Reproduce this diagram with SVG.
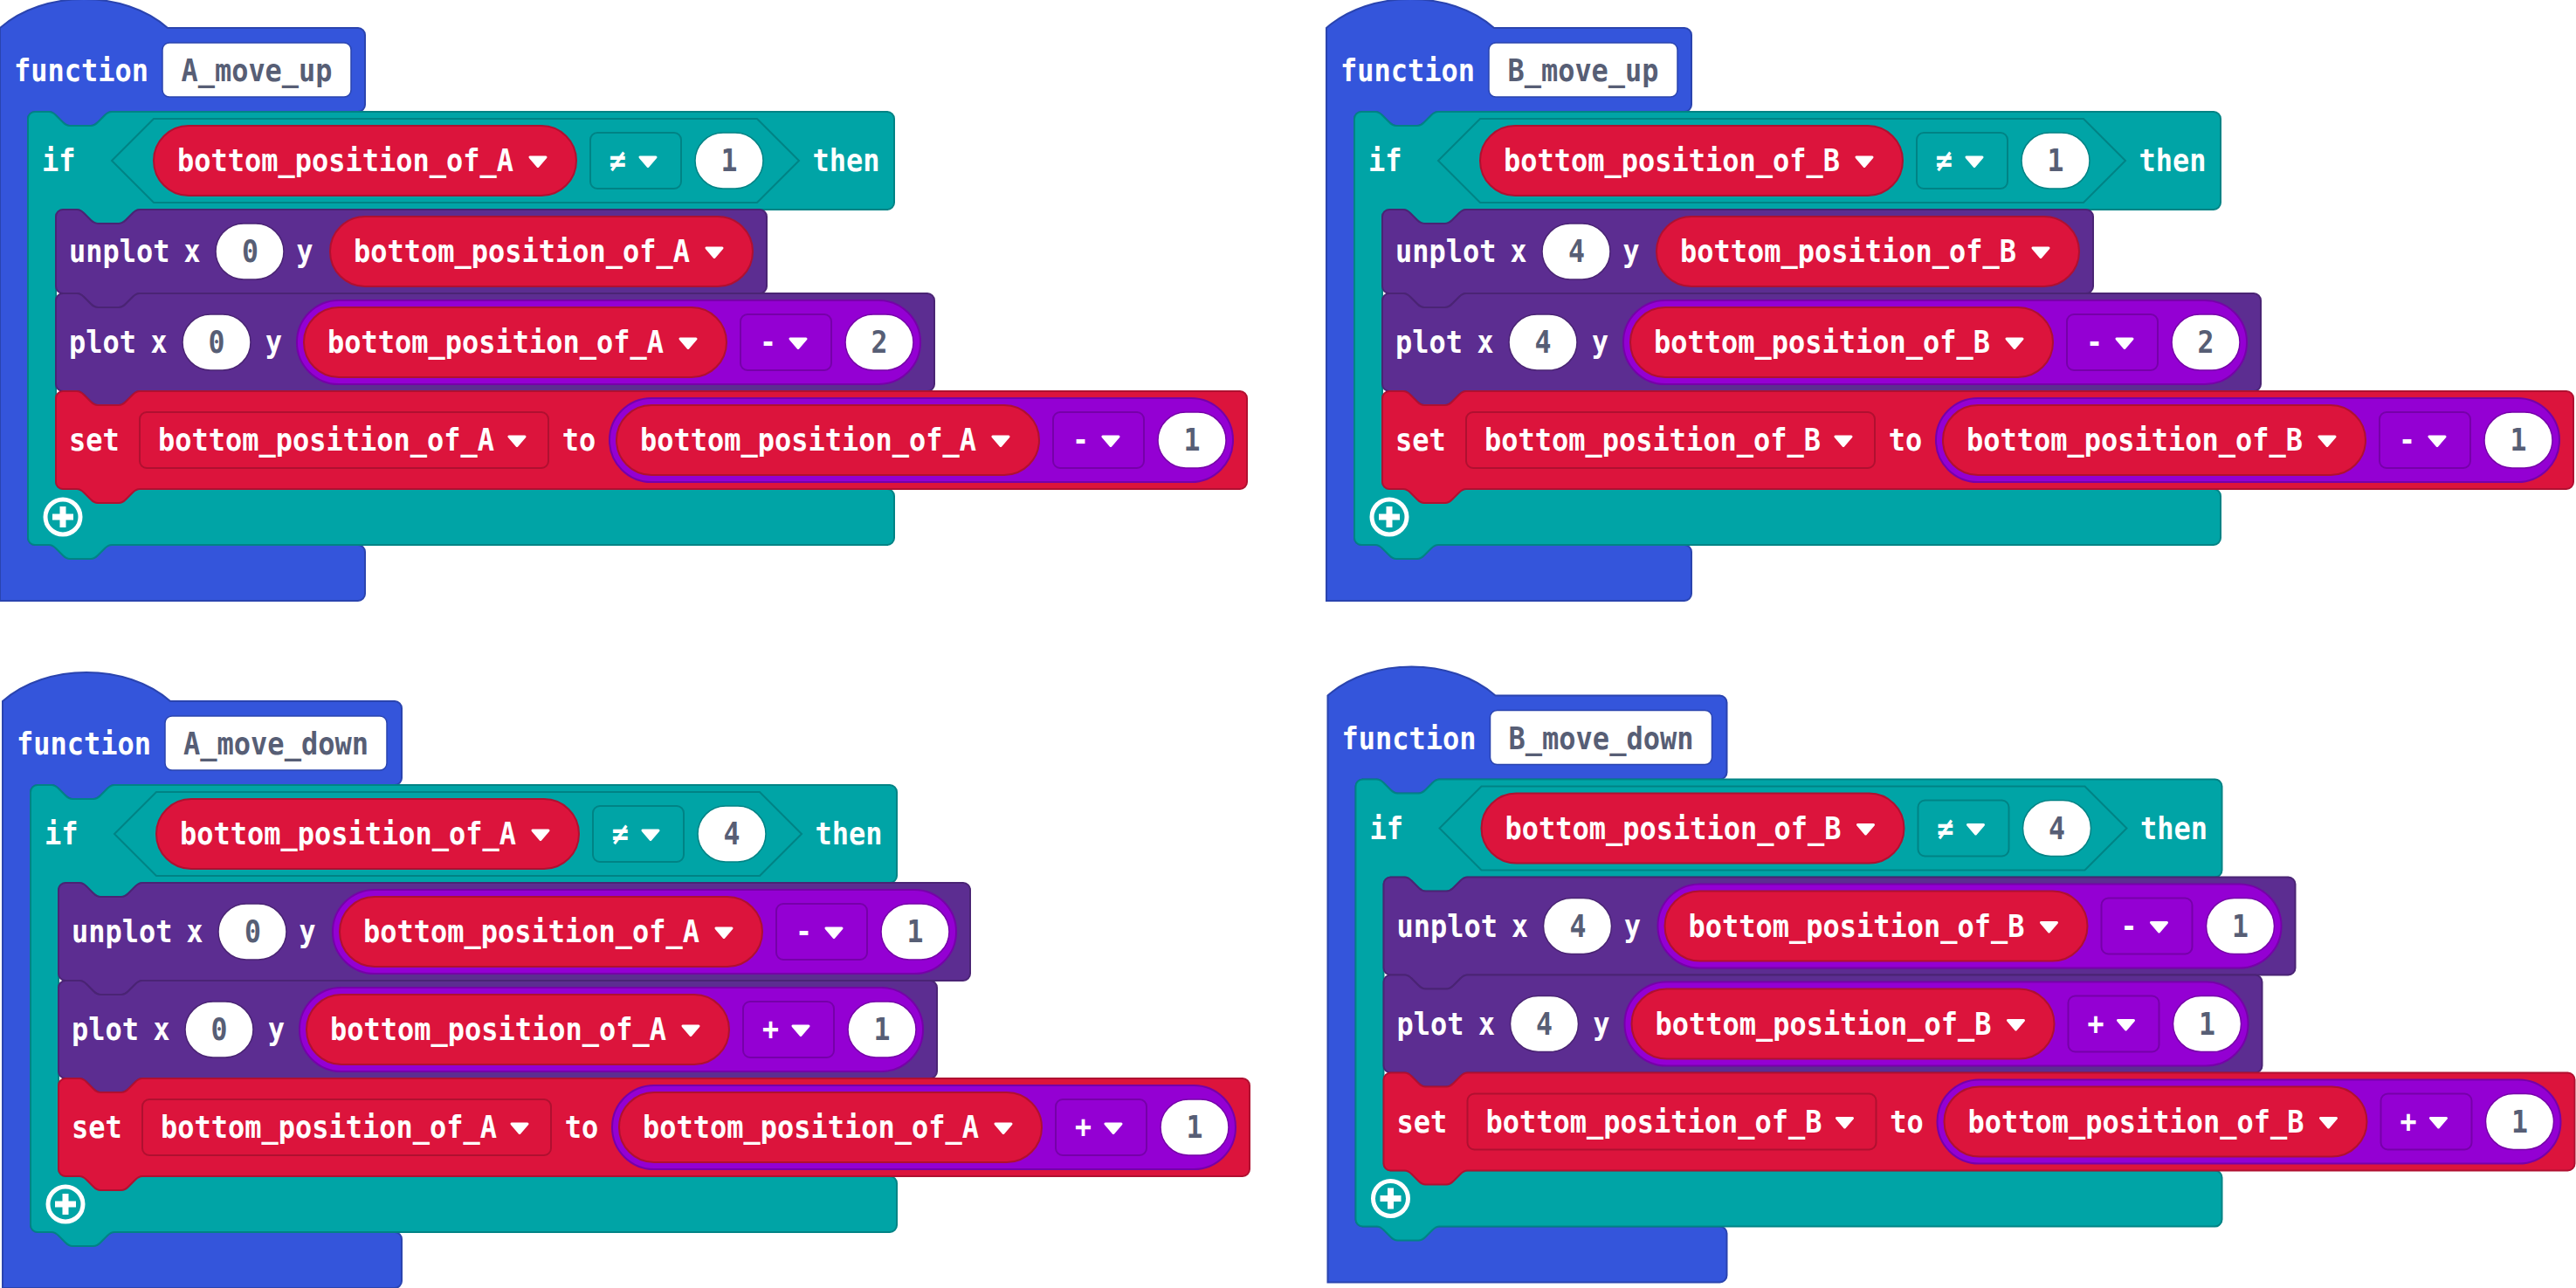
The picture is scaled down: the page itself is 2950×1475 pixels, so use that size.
<svg xmlns="http://www.w3.org/2000/svg" width="2950" height="1475" viewBox="0 0 2950 1475">
<style>
.t{font-family:"DejaVu Sans Mono","Liberation Mono",monospace;font-size:36px;font-weight:bold;fill:#fff}
.g{fill:#575e75}
.m{text-anchor:middle}
.blue{fill:#3455db;stroke:#2a44af;stroke-width:2}
.teal{fill:#00a4a6;stroke:#008385;stroke-width:2}
.led{fill:#5c2d91;stroke:#4a2474;stroke-width:2}
.var{fill:#dc143c;stroke:#b01030;stroke-width:2}
.math{fill:#9400d3;stroke:#7600a9;stroke-width:2}
.name{fill:#fff;stroke:#2a44af;stroke-width:1.5}
.nt{fill:#fff;stroke:#008385;stroke-width:1.5}
.nl{fill:#fff;stroke:#4a2474;stroke-width:1.5}
.nm{fill:#fff;stroke:#7600a9;stroke-width:1.5}
.plus{fill:none;stroke:#fff;stroke-width:5}
.dd{fill:#fff;stroke:#fff;stroke-width:3;stroke-linejoin:round}
</style>
<defs>
<path id="dd" class="dd" d="M -9,-5 L 9,-5 L 0,5.5 Z"/>
</defs>
<rect width="2950" height="1475" fill="#fff"/>

<!-- ===== A_move_up ===== -->
<g id="A_move_up" transform="translate(0,0)">
 <path class="blue" d="M 0,32 c 50,-44 142,-44 192,0 H 410 a 8,8 0 0 1 8,8 V 120 a 8,8 0 0 1 -8,8 H 128 c -4,0 -6,2 -8,4 l -8,8 c -2,2 -4,4 -8,4 h -24 c -4,0 -6,-2 -8,-4 l -8,-8 c -2,-2 -4,-4 -8,-4 H 40 a 8,8 0 0 0 -8,8 V 616 a 8,8 0 0 0 8,8 H 410 a 8,8 0 0 1 8,8 V 680 a 8,8 0 0 1 -8,8 H 0 Z"/>
 <text class="t" x="16" y="93" textLength="154" lengthAdjust="spacingAndGlyphs">function</text>
 <rect class="name" x="186" y="49" width="216" height="62" rx="8"/>
 <text class="t g m" x="294" y="93" textLength="173" lengthAdjust="spacingAndGlyphs">A_move_up</text>
 <g id="A_up_if">
  <path class="teal" d="M 32,136 a 8,8 0 0 1 8,-8 H 56 c 4,0 6,2 8,4 l 8,8 c 2,2 4,4 8,4 h 24 c 4,0 6,-2 8,-4 l 8,-8 c 2,-2 4,-4 8,-4 H 1016 a 8,8 0 0 1 8,8 V 232 a 8,8 0 0 1 -8,8 H 160 c -4,0 -6,2 -8,4 l -8,8 c -2,2 -4,4 -8,4 h -24 c -4,0 -6,-2 -8,-4 l -8,-8 c -2,-2 -4,-4 -8,-4 H 72 a 8,8 0 0 0 -8,8 V 552 a 8,8 0 0 0 8,8 H 1016 a 8,8 0 0 1 8,8 V 616 a 8,8 0 0 1 -8,8 H 128 c -4,0 -6,2 -8,4 l -8,8 c -2,2 -4,4 -8,4 h -24 c -4,0 -6,-2 -8,-4 l -8,-8 c -2,-2 -4,-4 -8,-4 H 40 a 8,8 0 0 1 -8,-8 Z"/>
  <text class="t" x="48" y="196" textLength="38.5" lengthAdjust="spacingAndGlyphs">if</text>
  <polygon class="teal" points="128,184 176,136 867,136 915,184 867,232 176,232"/>
  <rect class="var" x="176" y="144" width="484" height="80" rx="40"/>
  <text class="t" x="203" y="196" textLength="385" lengthAdjust="spacingAndGlyphs">bottom_position_of_A</text>
  <use href="#dd" x="616" y="185"/>
  <rect class="teal" x="676" y="152" width="104" height="64" rx="8"/>
  <text class="t m" x="707.5" y="196" textLength="19" lengthAdjust="spacingAndGlyphs">≠</text>
  <use href="#dd" x="742" y="185"/>
  <rect class="nt" x="796" y="152" width="78" height="64" rx="32"/>
  <text class="t g m" x="835" y="196" textLength="19" lengthAdjust="spacingAndGlyphs">1</text>
  <text class="t m" x="969" y="196" textLength="77" lengthAdjust="spacingAndGlyphs">then</text>
 </g>
 <g id="A_up_unplot">
  <path class="led" d="M 64,248 a 8,8 0 0 1 8,-8 H 88 c 4,0 6,2 8,4 l 8,8 c 2,2 4,4 8,4 h 24 c 4,0 6,-2 8,-4 l 8,-8 c 2,-2 4,-4 8,-4 H 870 a 8,8 0 0 1 8,8 V 328 a 8,8 0 0 1 -8,8 H 160 c -4,0 -6,2 -8,4 l -8,8 c -2,2 -4,4 -8,4 h -24 c -4,0 -6,-2 -8,-4 l -8,-8 c -2,-2 -4,-4 -8,-4 H 72 a 8,8 0 0 1 -8,-8 Z"/>
  <text class="t" x="79" y="300" textLength="115.5" lengthAdjust="spacingAndGlyphs">unplot</text>
  <text class="t m" x="220" y="300" textLength="19" lengthAdjust="spacingAndGlyphs">x</text>
  <rect class="nl" x="247" y="256" width="78" height="64" rx="32"/>
  <text class="t g m" x="286.5" y="300" textLength="19" lengthAdjust="spacingAndGlyphs">0</text>
  <text class="t m" x="349" y="300" textLength="19" lengthAdjust="spacingAndGlyphs">y</text>
  <rect class="var" x="378" y="248" width="484" height="80" rx="40"/>
  <text class="t" x="405" y="300" textLength="385" lengthAdjust="spacingAndGlyphs">bottom_position_of_A</text>
  <use href="#dd" x="818" y="289"/>
 </g>
 <g id="A_up_plot">
  <path class="led" d="M 64,344 a 8,8 0 0 1 8,-8 H 88 c 4,0 6,2 8,4 l 8,8 c 2,2 4,4 8,4 h 24 c 4,0 6,-2 8,-4 l 8,-8 c 2,-2 4,-4 8,-4 H 1062 a 8,8 0 0 1 8,8 V 440 a 8,8 0 0 1 -8,8 H 160 c -4,0 -6,2 -8,4 l -8,8 c -2,2 -4,4 -8,4 h -24 c -4,0 -6,-2 -8,-4 l -8,-8 c -2,-2 -4,-4 -8,-4 H 72 a 8,8 0 0 1 -8,-8 Z"/>
  <text class="t" x="79" y="404" textLength="77" lengthAdjust="spacingAndGlyphs">plot</text>
  <text class="t m" x="182" y="404" textLength="19" lengthAdjust="spacingAndGlyphs">x</text>
  <rect class="nl" x="209" y="360" width="78" height="64" rx="32"/>
  <text class="t g m" x="248" y="404" textLength="19" lengthAdjust="spacingAndGlyphs">0</text>
  <text class="t m" x="313.5" y="404" textLength="19" lengthAdjust="spacingAndGlyphs">y</text>
  <rect class="math" x="340" y="344" width="714" height="96" rx="48"/>
  <rect class="var" x="348" y="352" width="484" height="80" rx="40"/>
  <text class="t" x="375" y="404" textLength="385" lengthAdjust="spacingAndGlyphs">bottom_position_of_A</text>
  <use href="#dd" x="788" y="393"/>
  <rect class="math" x="848" y="360" width="104" height="64" rx="8"/>
  <text class="t m" x="879.5" y="404" textLength="19" lengthAdjust="spacingAndGlyphs">-</text>
  <use href="#dd" x="914" y="393"/>
  <rect class="nm" x="968" y="360" width="78" height="64" rx="32"/>
  <text class="t g m" x="1007" y="404" textLength="19" lengthAdjust="spacingAndGlyphs">2</text>
 </g>
 <g id="A_up_set">
  <path class="var" d="M 64,456 a 8,8 0 0 1 8,-8 H 88 c 4,0 6,2 8,4 l 8,8 c 2,2 4,4 8,4 h 24 c 4,0 6,-2 8,-4 l 8,-8 c 2,-2 4,-4 8,-4 H 1420 a 8,8 0 0 1 8,8 V 552 a 8,8 0 0 1 -8,8 H 160 c -4,0 -6,2 -8,4 l -8,8 c -2,2 -4,4 -8,4 h -24 c -4,0 -6,-2 -8,-4 l -8,-8 c -2,-2 -4,-4 -8,-4 H 72 a 8,8 0 0 1 -8,-8 Z"/>
  <text class="t" x="79" y="516" textLength="57.8" lengthAdjust="spacingAndGlyphs">set</text>
  <rect class="var" x="160" y="472" width="468" height="64" rx="8"/>
  <text class="t" x="181" y="516" textLength="385" lengthAdjust="spacingAndGlyphs">bottom_position_of_A</text>
  <use href="#dd" x="592" y="505"/>
  <text class="t m" x="663" y="516" textLength="38.5" lengthAdjust="spacingAndGlyphs">to</text>
  <rect class="math" x="698" y="456" width="714" height="96" rx="48"/>
  <rect class="var" x="706" y="464" width="484" height="80" rx="40"/>
  <text class="t" x="733" y="516" textLength="385" lengthAdjust="spacingAndGlyphs">bottom_position_of_A</text>
  <use href="#dd" x="1146" y="505"/>
  <rect class="math" x="1206" y="472" width="104" height="64" rx="8"/>
  <text class="t m" x="1237.5" y="516" textLength="19" lengthAdjust="spacingAndGlyphs">-</text>
  <use href="#dd" x="1272" y="505"/>
  <rect class="nm" x="1326" y="472" width="78" height="64" rx="32"/>
  <text class="t g m" x="1365" y="516" textLength="19" lengthAdjust="spacingAndGlyphs">1</text>
 </g>
 <g class="plus"><circle cx="72" cy="592" r="20"/><path d="M 60,592 H 84 M 72,580 V 604" stroke-width="7"/></g>
</g>

<!-- ===== B_move_up ===== -->
<g id="B_move_up" transform="translate(1519,0)">
 <path class="blue" d="M 0,32 c 50,-44 142,-44 192,0 H 410 a 8,8 0 0 1 8,8 V 120 a 8,8 0 0 1 -8,8 H 128 c -4,0 -6,2 -8,4 l -8,8 c -2,2 -4,4 -8,4 h -24 c -4,0 -6,-2 -8,-4 l -8,-8 c -2,-2 -4,-4 -8,-4 H 40 a 8,8 0 0 0 -8,8 V 616 a 8,8 0 0 0 8,8 H 410 a 8,8 0 0 1 8,8 V 680 a 8,8 0 0 1 -8,8 H 0 Z"/>
 <text class="t" x="16" y="93" textLength="154" lengthAdjust="spacingAndGlyphs">function</text>
 <rect class="name" x="186" y="49" width="216" height="62" rx="8"/>
 <text class="t g m" x="294" y="93" textLength="173" lengthAdjust="spacingAndGlyphs">B_move_up</text>
 <g id="B_up_if">
  <path class="teal" d="M 32,136 a 8,8 0 0 1 8,-8 H 56 c 4,0 6,2 8,4 l 8,8 c 2,2 4,4 8,4 h 24 c 4,0 6,-2 8,-4 l 8,-8 c 2,-2 4,-4 8,-4 H 1016 a 8,8 0 0 1 8,8 V 232 a 8,8 0 0 1 -8,8 H 160 c -4,0 -6,2 -8,4 l -8,8 c -2,2 -4,4 -8,4 h -24 c -4,0 -6,-2 -8,-4 l -8,-8 c -2,-2 -4,-4 -8,-4 H 72 a 8,8 0 0 0 -8,8 V 552 a 8,8 0 0 0 8,8 H 1016 a 8,8 0 0 1 8,8 V 616 a 8,8 0 0 1 -8,8 H 128 c -4,0 -6,2 -8,4 l -8,8 c -2,2 -4,4 -8,4 h -24 c -4,0 -6,-2 -8,-4 l -8,-8 c -2,-2 -4,-4 -8,-4 H 40 a 8,8 0 0 1 -8,-8 Z"/>
  <text class="t" x="48" y="196" textLength="38.5" lengthAdjust="spacingAndGlyphs">if</text>
  <polygon class="teal" points="128,184 176,136 867,136 915,184 867,232 176,232"/>
  <rect class="var" x="176" y="144" width="484" height="80" rx="40"/>
  <text class="t" x="203" y="196" textLength="385" lengthAdjust="spacingAndGlyphs">bottom_position_of_B</text>
  <use href="#dd" x="616" y="185"/>
  <rect class="teal" x="676" y="152" width="104" height="64" rx="8"/>
  <text class="t m" x="707.5" y="196" textLength="19" lengthAdjust="spacingAndGlyphs">≠</text>
  <use href="#dd" x="742" y="185"/>
  <rect class="nt" x="796" y="152" width="78" height="64" rx="32"/>
  <text class="t g m" x="835" y="196" textLength="19" lengthAdjust="spacingAndGlyphs">1</text>
  <text class="t m" x="969" y="196" textLength="77" lengthAdjust="spacingAndGlyphs">then</text>
 </g>
 <g id="B_up_unplot">
  <path class="led" d="M 64,248 a 8,8 0 0 1 8,-8 H 88 c 4,0 6,2 8,4 l 8,8 c 2,2 4,4 8,4 h 24 c 4,0 6,-2 8,-4 l 8,-8 c 2,-2 4,-4 8,-4 H 870 a 8,8 0 0 1 8,8 V 328 a 8,8 0 0 1 -8,8 H 160 c -4,0 -6,2 -8,4 l -8,8 c -2,2 -4,4 -8,4 h -24 c -4,0 -6,-2 -8,-4 l -8,-8 c -2,-2 -4,-4 -8,-4 H 72 a 8,8 0 0 1 -8,-8 Z"/>
  <text class="t" x="79" y="300" textLength="115.5" lengthAdjust="spacingAndGlyphs">unplot</text>
  <text class="t m" x="220" y="300" textLength="19" lengthAdjust="spacingAndGlyphs">x</text>
  <rect class="nl" x="247" y="256" width="78" height="64" rx="32"/>
  <text class="t g m" x="286.5" y="300" textLength="19" lengthAdjust="spacingAndGlyphs">4</text>
  <text class="t m" x="349" y="300" textLength="19" lengthAdjust="spacingAndGlyphs">y</text>
  <rect class="var" x="378" y="248" width="484" height="80" rx="40"/>
  <text class="t" x="405" y="300" textLength="385" lengthAdjust="spacingAndGlyphs">bottom_position_of_B</text>
  <use href="#dd" x="818" y="289"/>
 </g>
 <g id="B_up_plot">
  <path class="led" d="M 64,344 a 8,8 0 0 1 8,-8 H 88 c 4,0 6,2 8,4 l 8,8 c 2,2 4,4 8,4 h 24 c 4,0 6,-2 8,-4 l 8,-8 c 2,-2 4,-4 8,-4 H 1062 a 8,8 0 0 1 8,8 V 440 a 8,8 0 0 1 -8,8 H 160 c -4,0 -6,2 -8,4 l -8,8 c -2,2 -4,4 -8,4 h -24 c -4,0 -6,-2 -8,-4 l -8,-8 c -2,-2 -4,-4 -8,-4 H 72 a 8,8 0 0 1 -8,-8 Z"/>
  <text class="t" x="79" y="404" textLength="77" lengthAdjust="spacingAndGlyphs">plot</text>
  <text class="t m" x="182" y="404" textLength="19" lengthAdjust="spacingAndGlyphs">x</text>
  <rect class="nl" x="209" y="360" width="78" height="64" rx="32"/>
  <text class="t g m" x="248" y="404" textLength="19" lengthAdjust="spacingAndGlyphs">4</text>
  <text class="t m" x="313.5" y="404" textLength="19" lengthAdjust="spacingAndGlyphs">y</text>
  <rect class="math" x="340" y="344" width="714" height="96" rx="48"/>
  <rect class="var" x="348" y="352" width="484" height="80" rx="40"/>
  <text class="t" x="375" y="404" textLength="385" lengthAdjust="spacingAndGlyphs">bottom_position_of_B</text>
  <use href="#dd" x="788" y="393"/>
  <rect class="math" x="848" y="360" width="104" height="64" rx="8"/>
  <text class="t m" x="879.5" y="404" textLength="19" lengthAdjust="spacingAndGlyphs">-</text>
  <use href="#dd" x="914" y="393"/>
  <rect class="nm" x="968" y="360" width="78" height="64" rx="32"/>
  <text class="t g m" x="1007" y="404" textLength="19" lengthAdjust="spacingAndGlyphs">2</text>
 </g>
 <g id="B_up_set">
  <path class="var" d="M 64,456 a 8,8 0 0 1 8,-8 H 88 c 4,0 6,2 8,4 l 8,8 c 2,2 4,4 8,4 h 24 c 4,0 6,-2 8,-4 l 8,-8 c 2,-2 4,-4 8,-4 H 1420 a 8,8 0 0 1 8,8 V 552 a 8,8 0 0 1 -8,8 H 160 c -4,0 -6,2 -8,4 l -8,8 c -2,2 -4,4 -8,4 h -24 c -4,0 -6,-2 -8,-4 l -8,-8 c -2,-2 -4,-4 -8,-4 H 72 a 8,8 0 0 1 -8,-8 Z"/>
  <text class="t" x="79" y="516" textLength="57.8" lengthAdjust="spacingAndGlyphs">set</text>
  <rect class="var" x="160" y="472" width="468" height="64" rx="8"/>
  <text class="t" x="181" y="516" textLength="385" lengthAdjust="spacingAndGlyphs">bottom_position_of_B</text>
  <use href="#dd" x="592" y="505"/>
  <text class="t m" x="663" y="516" textLength="38.5" lengthAdjust="spacingAndGlyphs">to</text>
  <rect class="math" x="698" y="456" width="714" height="96" rx="48"/>
  <rect class="var" x="706" y="464" width="484" height="80" rx="40"/>
  <text class="t" x="733" y="516" textLength="385" lengthAdjust="spacingAndGlyphs">bottom_position_of_B</text>
  <use href="#dd" x="1146" y="505"/>
  <rect class="math" x="1206" y="472" width="104" height="64" rx="8"/>
  <text class="t m" x="1237.5" y="516" textLength="19" lengthAdjust="spacingAndGlyphs">-</text>
  <use href="#dd" x="1272" y="505"/>
  <rect class="nm" x="1326" y="472" width="78" height="64" rx="32"/>
  <text class="t g m" x="1365" y="516" textLength="19" lengthAdjust="spacingAndGlyphs">1</text>
 </g>
 <g class="plus"><circle cx="72" cy="592" r="20"/><path d="M 60,592 H 84 M 72,580 V 604" stroke-width="7"/></g>
</g>

<!-- ===== A_move_down ===== -->
<g id="A_move_down" transform="translate(3,771)">
 <path class="blue" d="M 0,32 c 50,-44 142,-44 192,0 H 449 a 8,8 0 0 1 8,8 V 120 a 8,8 0 0 1 -8,8 H 128 c -4,0 -6,2 -8,4 l -8,8 c -2,2 -4,4 -8,4 h -24 c -4,0 -6,-2 -8,-4 l -8,-8 c -2,-2 -4,-4 -8,-4 H 40 a 8,8 0 0 0 -8,8 V 632 a 8,8 0 0 0 8,8 H 449 a 8,8 0 0 1 8,8 V 696 a 8,8 0 0 1 -8,8 H 0 Z"/>
 <text class="t" x="16" y="93" textLength="154" lengthAdjust="spacingAndGlyphs">function</text>
 <rect class="name" x="186" y="49" width="254" height="62" rx="8"/>
 <text class="t g m" x="313" y="93" textLength="212" lengthAdjust="spacingAndGlyphs">A_move_down</text>
 <g id="A_down_if">
  <path class="teal" d="M 32,136 a 8,8 0 0 1 8,-8 H 56 c 4,0 6,2 8,4 l 8,8 c 2,2 4,4 8,4 h 24 c 4,0 6,-2 8,-4 l 8,-8 c 2,-2 4,-4 8,-4 H 1016 a 8,8 0 0 1 8,8 V 232 a 8,8 0 0 1 -8,8 H 160 c -4,0 -6,2 -8,4 l -8,8 c -2,2 -4,4 -8,4 h -24 c -4,0 -6,-2 -8,-4 l -8,-8 c -2,-2 -4,-4 -8,-4 H 72 a 8,8 0 0 0 -8,8 V 568 a 8,8 0 0 0 8,8 H 1016 a 8,8 0 0 1 8,8 V 632 a 8,8 0 0 1 -8,8 H 128 c -4,0 -6,2 -8,4 l -8,8 c -2,2 -4,4 -8,4 h -24 c -4,0 -6,-2 -8,-4 l -8,-8 c -2,-2 -4,-4 -8,-4 H 40 a 8,8 0 0 1 -8,-8 Z"/>
  <text class="t" x="48" y="196" textLength="38.5" lengthAdjust="spacingAndGlyphs">if</text>
  <polygon class="teal" points="128,184 176,136 867,136 915,184 867,232 176,232"/>
  <rect class="var" x="176" y="144" width="484" height="80" rx="40"/>
  <text class="t" x="203" y="196" textLength="385" lengthAdjust="spacingAndGlyphs">bottom_position_of_A</text>
  <use href="#dd" x="616" y="185"/>
  <rect class="teal" x="676" y="152" width="104" height="64" rx="8"/>
  <text class="t m" x="707.5" y="196" textLength="19" lengthAdjust="spacingAndGlyphs">≠</text>
  <use href="#dd" x="742" y="185"/>
  <rect class="nt" x="796" y="152" width="78" height="64" rx="32"/>
  <text class="t g m" x="835" y="196" textLength="19" lengthAdjust="spacingAndGlyphs">4</text>
  <text class="t m" x="969" y="196" textLength="77" lengthAdjust="spacingAndGlyphs">then</text>
 </g>
 <g id="A_down_unplot">
  <path class="led" d="M 64,248 a 8,8 0 0 1 8,-8 H 88 c 4,0 6,2 8,4 l 8,8 c 2,2 4,4 8,4 h 24 c 4,0 6,-2 8,-4 l 8,-8 c 2,-2 4,-4 8,-4 H 1100 a 8,8 0 0 1 8,8 V 344 a 8,8 0 0 1 -8,8 H 160 c -4,0 -6,2 -8,4 l -8,8 c -2,2 -4,4 -8,4 h -24 c -4,0 -6,-2 -8,-4 l -8,-8 c -2,-2 -4,-4 -8,-4 H 72 a 8,8 0 0 1 -8,-8 Z"/>
  <text class="t" x="79" y="308" textLength="115.5" lengthAdjust="spacingAndGlyphs">unplot</text>
  <text class="t m" x="220" y="308" textLength="19" lengthAdjust="spacingAndGlyphs">x</text>
  <rect class="nl" x="247" y="264" width="78" height="64" rx="32"/>
  <text class="t g m" x="286.5" y="308" textLength="19" lengthAdjust="spacingAndGlyphs">0</text>
  <text class="t m" x="349" y="308" textLength="19" lengthAdjust="spacingAndGlyphs">y</text>
  <rect class="math" x="378" y="248" width="714" height="96" rx="48"/>
  <rect class="var" x="386" y="256" width="484" height="80" rx="40"/>
  <text class="t" x="413" y="308" textLength="385" lengthAdjust="spacingAndGlyphs">bottom_position_of_A</text>
  <use href="#dd" x="826" y="297"/>
  <rect class="math" x="886" y="264" width="104" height="64" rx="8"/>
  <text class="t m" x="917.5" y="308" textLength="19" lengthAdjust="spacingAndGlyphs">-</text>
  <use href="#dd" x="952" y="297"/>
  <rect class="nm" x="1006" y="264" width="78" height="64" rx="32"/>
  <text class="t g m" x="1045" y="308" textLength="19" lengthAdjust="spacingAndGlyphs">1</text>
 </g>
 <g id="A_down_plot">
  <path class="led" d="M 64,360 a 8,8 0 0 1 8,-8 H 88 c 4,0 6,2 8,4 l 8,8 c 2,2 4,4 8,4 h 24 c 4,0 6,-2 8,-4 l 8,-8 c 2,-2 4,-4 8,-4 H 1062 a 8,8 0 0 1 8,8 V 456 a 8,8 0 0 1 -8,8 H 160 c -4,0 -6,2 -8,4 l -8,8 c -2,2 -4,4 -8,4 h -24 c -4,0 -6,-2 -8,-4 l -8,-8 c -2,-2 -4,-4 -8,-4 H 72 a 8,8 0 0 1 -8,-8 Z"/>
  <text class="t" x="79" y="420" textLength="77" lengthAdjust="spacingAndGlyphs">plot</text>
  <text class="t m" x="182" y="420" textLength="19" lengthAdjust="spacingAndGlyphs">x</text>
  <rect class="nl" x="209" y="376" width="78" height="64" rx="32"/>
  <text class="t g m" x="248" y="420" textLength="19" lengthAdjust="spacingAndGlyphs">0</text>
  <text class="t m" x="313.5" y="420" textLength="19" lengthAdjust="spacingAndGlyphs">y</text>
  <rect class="math" x="340" y="360" width="714" height="96" rx="48"/>
  <rect class="var" x="348" y="368" width="484" height="80" rx="40"/>
  <text class="t" x="375" y="420" textLength="385" lengthAdjust="spacingAndGlyphs">bottom_position_of_A</text>
  <use href="#dd" x="788" y="409"/>
  <rect class="math" x="848" y="376" width="104" height="64" rx="8"/>
  <text class="t m" x="879.5" y="420" textLength="19" lengthAdjust="spacingAndGlyphs">+</text>
  <use href="#dd" x="914" y="409"/>
  <rect class="nm" x="968" y="376" width="78" height="64" rx="32"/>
  <text class="t g m" x="1007" y="420" textLength="19" lengthAdjust="spacingAndGlyphs">1</text>
 </g>
 <g id="A_down_set">
  <path class="var" d="M 64,472 a 8,8 0 0 1 8,-8 H 88 c 4,0 6,2 8,4 l 8,8 c 2,2 4,4 8,4 h 24 c 4,0 6,-2 8,-4 l 8,-8 c 2,-2 4,-4 8,-4 H 1420 a 8,8 0 0 1 8,8 V 568 a 8,8 0 0 1 -8,8 H 160 c -4,0 -6,2 -8,4 l -8,8 c -2,2 -4,4 -8,4 h -24 c -4,0 -6,-2 -8,-4 l -8,-8 c -2,-2 -4,-4 -8,-4 H 72 a 8,8 0 0 1 -8,-8 Z"/>
  <text class="t" x="79" y="532" textLength="57.8" lengthAdjust="spacingAndGlyphs">set</text>
  <rect class="var" x="160" y="488" width="468" height="64" rx="8"/>
  <text class="t" x="181" y="532" textLength="385" lengthAdjust="spacingAndGlyphs">bottom_position_of_A</text>
  <use href="#dd" x="592" y="521"/>
  <text class="t m" x="663" y="532" textLength="38.5" lengthAdjust="spacingAndGlyphs">to</text>
  <rect class="math" x="698" y="472" width="714" height="96" rx="48"/>
  <rect class="var" x="706" y="480" width="484" height="80" rx="40"/>
  <text class="t" x="733" y="532" textLength="385" lengthAdjust="spacingAndGlyphs">bottom_position_of_A</text>
  <use href="#dd" x="1146" y="521"/>
  <rect class="math" x="1206" y="488" width="104" height="64" rx="8"/>
  <text class="t m" x="1237.5" y="532" textLength="19" lengthAdjust="spacingAndGlyphs">+</text>
  <use href="#dd" x="1272" y="521"/>
  <rect class="nm" x="1326" y="488" width="78" height="64" rx="32"/>
  <text class="t g m" x="1365" y="532" textLength="19" lengthAdjust="spacingAndGlyphs">1</text>
 </g>
 <g class="plus"><circle cx="72" cy="608" r="20"/><path d="M 60,608 H 84 M 72,596 V 620" stroke-width="7"/></g>
</g>

<!-- ===== B_move_down ===== -->
<g id="B_move_down" transform="translate(1520.5,764.5)">
 <path class="blue" d="M 0,32 c 50,-44 142,-44 192,0 H 449 a 8,8 0 0 1 8,8 V 120 a 8,8 0 0 1 -8,8 H 128 c -4,0 -6,2 -8,4 l -8,8 c -2,2 -4,4 -8,4 h -24 c -4,0 -6,-2 -8,-4 l -8,-8 c -2,-2 -4,-4 -8,-4 H 40 a 8,8 0 0 0 -8,8 V 632 a 8,8 0 0 0 8,8 H 449 a 8,8 0 0 1 8,8 V 696 a 8,8 0 0 1 -8,8 H 0 Z"/>
 <text class="t" x="16" y="93" textLength="154" lengthAdjust="spacingAndGlyphs">function</text>
 <rect class="name" x="186" y="49" width="254" height="62" rx="8"/>
 <text class="t g m" x="313" y="93" textLength="212" lengthAdjust="spacingAndGlyphs">B_move_down</text>
 <g id="B_down_if">
  <path class="teal" d="M 32,136 a 8,8 0 0 1 8,-8 H 56 c 4,0 6,2 8,4 l 8,8 c 2,2 4,4 8,4 h 24 c 4,0 6,-2 8,-4 l 8,-8 c 2,-2 4,-4 8,-4 H 1016 a 8,8 0 0 1 8,8 V 232 a 8,8 0 0 1 -8,8 H 160 c -4,0 -6,2 -8,4 l -8,8 c -2,2 -4,4 -8,4 h -24 c -4,0 -6,-2 -8,-4 l -8,-8 c -2,-2 -4,-4 -8,-4 H 72 a 8,8 0 0 0 -8,8 V 568 a 8,8 0 0 0 8,8 H 1016 a 8,8 0 0 1 8,8 V 632 a 8,8 0 0 1 -8,8 H 128 c -4,0 -6,2 -8,4 l -8,8 c -2,2 -4,4 -8,4 h -24 c -4,0 -6,-2 -8,-4 l -8,-8 c -2,-2 -4,-4 -8,-4 H 40 a 8,8 0 0 1 -8,-8 Z"/>
  <text class="t" x="48" y="196" textLength="38.5" lengthAdjust="spacingAndGlyphs">if</text>
  <polygon class="teal" points="128,184 176,136 867,136 915,184 867,232 176,232"/>
  <rect class="var" x="176" y="144" width="484" height="80" rx="40"/>
  <text class="t" x="203" y="196" textLength="385" lengthAdjust="spacingAndGlyphs">bottom_position_of_B</text>
  <use href="#dd" x="616" y="185"/>
  <rect class="teal" x="676" y="152" width="104" height="64" rx="8"/>
  <text class="t m" x="707.5" y="196" textLength="19" lengthAdjust="spacingAndGlyphs">≠</text>
  <use href="#dd" x="742" y="185"/>
  <rect class="nt" x="796" y="152" width="78" height="64" rx="32"/>
  <text class="t g m" x="835" y="196" textLength="19" lengthAdjust="spacingAndGlyphs">4</text>
  <text class="t m" x="969" y="196" textLength="77" lengthAdjust="spacingAndGlyphs">then</text>
 </g>
 <g id="B_down_unplot">
  <path class="led" d="M 64,248 a 8,8 0 0 1 8,-8 H 88 c 4,0 6,2 8,4 l 8,8 c 2,2 4,4 8,4 h 24 c 4,0 6,-2 8,-4 l 8,-8 c 2,-2 4,-4 8,-4 H 1100 a 8,8 0 0 1 8,8 V 344 a 8,8 0 0 1 -8,8 H 160 c -4,0 -6,2 -8,4 l -8,8 c -2,2 -4,4 -8,4 h -24 c -4,0 -6,-2 -8,-4 l -8,-8 c -2,-2 -4,-4 -8,-4 H 72 a 8,8 0 0 1 -8,-8 Z"/>
  <text class="t" x="79" y="308" textLength="115.5" lengthAdjust="spacingAndGlyphs">unplot</text>
  <text class="t m" x="220" y="308" textLength="19" lengthAdjust="spacingAndGlyphs">x</text>
  <rect class="nl" x="247" y="264" width="78" height="64" rx="32"/>
  <text class="t g m" x="286.5" y="308" textLength="19" lengthAdjust="spacingAndGlyphs">4</text>
  <text class="t m" x="349" y="308" textLength="19" lengthAdjust="spacingAndGlyphs">y</text>
  <rect class="math" x="378" y="248" width="714" height="96" rx="48"/>
  <rect class="var" x="386" y="256" width="484" height="80" rx="40"/>
  <text class="t" x="413" y="308" textLength="385" lengthAdjust="spacingAndGlyphs">bottom_position_of_B</text>
  <use href="#dd" x="826" y="297"/>
  <rect class="math" x="886" y="264" width="104" height="64" rx="8"/>
  <text class="t m" x="917.5" y="308" textLength="19" lengthAdjust="spacingAndGlyphs">-</text>
  <use href="#dd" x="952" y="297"/>
  <rect class="nm" x="1006" y="264" width="78" height="64" rx="32"/>
  <text class="t g m" x="1045" y="308" textLength="19" lengthAdjust="spacingAndGlyphs">1</text>
 </g>
 <g id="B_down_plot">
  <path class="led" d="M 64,360 a 8,8 0 0 1 8,-8 H 88 c 4,0 6,2 8,4 l 8,8 c 2,2 4,4 8,4 h 24 c 4,0 6,-2 8,-4 l 8,-8 c 2,-2 4,-4 8,-4 H 1062 a 8,8 0 0 1 8,8 V 456 a 8,8 0 0 1 -8,8 H 160 c -4,0 -6,2 -8,4 l -8,8 c -2,2 -4,4 -8,4 h -24 c -4,0 -6,-2 -8,-4 l -8,-8 c -2,-2 -4,-4 -8,-4 H 72 a 8,8 0 0 1 -8,-8 Z"/>
  <text class="t" x="79" y="420" textLength="77" lengthAdjust="spacingAndGlyphs">plot</text>
  <text class="t m" x="182" y="420" textLength="19" lengthAdjust="spacingAndGlyphs">x</text>
  <rect class="nl" x="209" y="376" width="78" height="64" rx="32"/>
  <text class="t g m" x="248" y="420" textLength="19" lengthAdjust="spacingAndGlyphs">4</text>
  <text class="t m" x="313.5" y="420" textLength="19" lengthAdjust="spacingAndGlyphs">y</text>
  <rect class="math" x="340" y="360" width="714" height="96" rx="48"/>
  <rect class="var" x="348" y="368" width="484" height="80" rx="40"/>
  <text class="t" x="375" y="420" textLength="385" lengthAdjust="spacingAndGlyphs">bottom_position_of_B</text>
  <use href="#dd" x="788" y="409"/>
  <rect class="math" x="848" y="376" width="104" height="64" rx="8"/>
  <text class="t m" x="879.5" y="420" textLength="19" lengthAdjust="spacingAndGlyphs">+</text>
  <use href="#dd" x="914" y="409"/>
  <rect class="nm" x="968" y="376" width="78" height="64" rx="32"/>
  <text class="t g m" x="1007" y="420" textLength="19" lengthAdjust="spacingAndGlyphs">1</text>
 </g>
 <g id="B_down_set">
  <path class="var" d="M 64,472 a 8,8 0 0 1 8,-8 H 88 c 4,0 6,2 8,4 l 8,8 c 2,2 4,4 8,4 h 24 c 4,0 6,-2 8,-4 l 8,-8 c 2,-2 4,-4 8,-4 H 1420 a 8,8 0 0 1 8,8 V 568 a 8,8 0 0 1 -8,8 H 160 c -4,0 -6,2 -8,4 l -8,8 c -2,2 -4,4 -8,4 h -24 c -4,0 -6,-2 -8,-4 l -8,-8 c -2,-2 -4,-4 -8,-4 H 72 a 8,8 0 0 1 -8,-8 Z"/>
  <text class="t" x="79" y="532" textLength="57.8" lengthAdjust="spacingAndGlyphs">set</text>
  <rect class="var" x="160" y="488" width="468" height="64" rx="8"/>
  <text class="t" x="181" y="532" textLength="385" lengthAdjust="spacingAndGlyphs">bottom_position_of_B</text>
  <use href="#dd" x="592" y="521"/>
  <text class="t m" x="663" y="532" textLength="38.5" lengthAdjust="spacingAndGlyphs">to</text>
  <rect class="math" x="698" y="472" width="714" height="96" rx="48"/>
  <rect class="var" x="706" y="480" width="484" height="80" rx="40"/>
  <text class="t" x="733" y="532" textLength="385" lengthAdjust="spacingAndGlyphs">bottom_position_of_B</text>
  <use href="#dd" x="1146" y="521"/>
  <rect class="math" x="1206" y="488" width="104" height="64" rx="8"/>
  <text class="t m" x="1237.5" y="532" textLength="19" lengthAdjust="spacingAndGlyphs">+</text>
  <use href="#dd" x="1272" y="521"/>
  <rect class="nm" x="1326" y="488" width="78" height="64" rx="32"/>
  <text class="t g m" x="1365" y="532" textLength="19" lengthAdjust="spacingAndGlyphs">1</text>
 </g>
 <g class="plus"><circle cx="72" cy="608" r="20"/><path d="M 60,608 H 84 M 72,596 V 620" stroke-width="7"/></g>
</g>

<g id="connectors"></g>
</svg>
